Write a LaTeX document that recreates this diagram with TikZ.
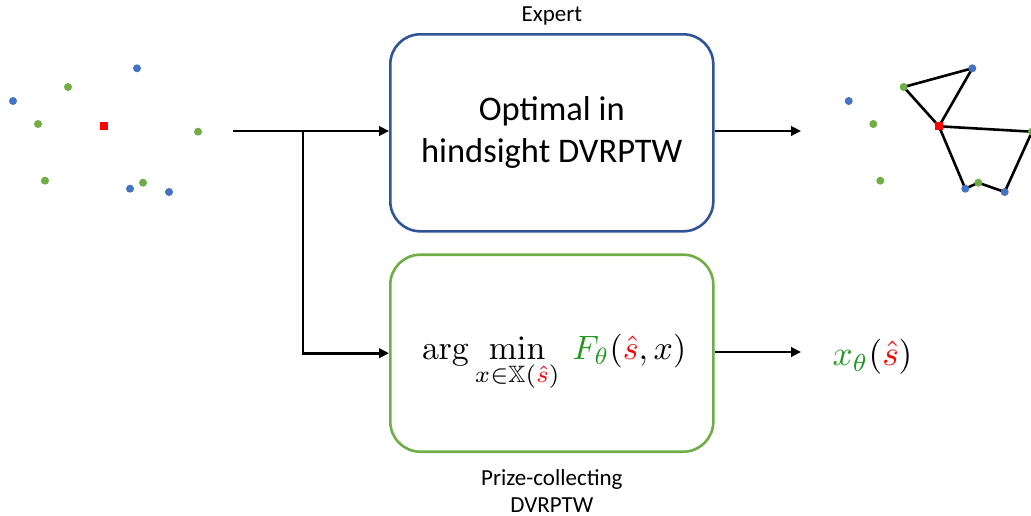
\documentclass[tikz,border=0pt]{standalone}
\usepackage[no-math]{fontspec}
\setmainfont{Carlito}
\usepackage{amssymb}
\usetikzlibrary{arrows.meta}
\definecolor{dblue}{HTML}{2F5597}
\definecolor{bgreen}{HTML}{70AD47}
\definecolor{dotblue}{HTML}{4472C4}
\definecolor{dotgreen}{HTML}{70AD47}
\definecolor{mgreen}{rgb}{0.13,0.6,0.13}
\tikzset{
  box/.style={draw, line width=2.6pt, rounded corners=30pt, minimum width=323pt, minimum height=197pt, align=center, inner sep=0pt},
  arr/.style={line width=2.6pt, -{Triangle[length=10pt,width=9.5pt]}},
  bdot/.style={circle, fill=dotblue, inner sep=0pt, minimum size=8pt},
  gdot/.style={circle, fill=dotgreen, inner sep=0pt, minimum size=8pt},
  depot/.style={rectangle, fill=red, inner sep=0pt, minimum size=8pt},
  route/.style={line width=2.6pt, black},
  lbl/.style={font=\fontsize{23}{27}\selectfont, align=center},
  mathlbl/.style={scale=3.38, transform shape, inner sep=0pt}
}
\begin{document}
\begin{tikzpicture}[x=1pt,y=-1pt]
\useasboundingbox (0,0) rectangle (1031,515);
% left instance
\node[bdot] (l1) at (137,68.3) {};
\node[gdot] (l2) at (68,87) {};
\node[bdot] (l3) at (13,101) {};
\node[gdot] (l4) at (38,124) {};
\node[depot] (l0) at (103.7,126.3) {};
\node[gdot] (l5) at (198,131.7) {};
\node[gdot] (l6) at (45,180.7) {};
\node[bdot] (l7) at (130,188.7) {};
\node[gdot] (l8) at (143,182.7) {};
\node[bdot] (l9) at (169,192) {};
% boxes
\node[box, draw=dblue, font=\fontsize{34.5}{41.7}\selectfont] (expert) at (551.8,132.8) {Optimal in\\hindsight DVRPTW};
\node[box, draw=bgreen] (pc) at (551.8,353.2) {};
\node[mathlbl] (pcf) at (554,363)
  {$\displaystyle \arg\min_{x\in\mathbb{X}(\textcolor{red}{\hat{s}})}\ \textcolor{mgreen}{F_\theta}(\textcolor{red}{\hat{s}},x)$};
\node[lbl, anchor=south] (explbl) at (551.8,29) {Expert};
\node[lbl, anchor=north] (pclbl) at (551.8,466) {Prize-collecting\\DVRPTW};
% input arrows
\coordinate (in) at (233,131);
\coordinate (split) at (303,131);
\draw[arr] (in) -- (expert.west |- in);
\draw[arr] (split) |- (pc.west);
% outputs
\coordinate (out1) at (801,131);
\coordinate (out2) at (801,352);
\draw[arr] (expert.east |- out1) -- (out1);
\draw[arr] (pc.east |- out2) -- (out2);
\node[mathlbl, scale=1.04] (xs) at (872.5,357) {$\textcolor{mgreen}{x_\theta}(\textcolor{red}{\hat{s}})$};
% right solution
\coordinate (r0c) at (939,126.3);
\coordinate (r1c) at (972.3,68.3);
\coordinate (r2c) at (903.7,87);
\coordinate (r5c) at (1032,131.7);
\coordinate (r7c) at (965.3,188.7);
\coordinate (r8c) at (978.3,182.7);
\coordinate (r9c) at (1004.7,192);
\draw[route] (r0c) -- (r2c) -- (r1c) -- cycle;
\draw[route] (r0c) -- (r7c) -- (r8c) -- (r9c) -- (r5c) -- cycle;
\node[bdot] (r1) at (r1c) {};
\node[gdot] (r2) at (r2c) {};
\node[bdot] (r3) at (848.7,101) {};
\node[gdot] (r4) at (873.3,124) {};
\node[gdot] (r5) at (r5c) {};
\node[gdot] (r6) at (880.3,180.7) {};
\node[bdot] (r7) at (r7c) {};
\node[gdot] (r8) at (r8c) {};
\node[bdot] (r9) at (r9c) {};
\node[depot] (r0) at (r0c) {};
\end{tikzpicture}
\end{document}
